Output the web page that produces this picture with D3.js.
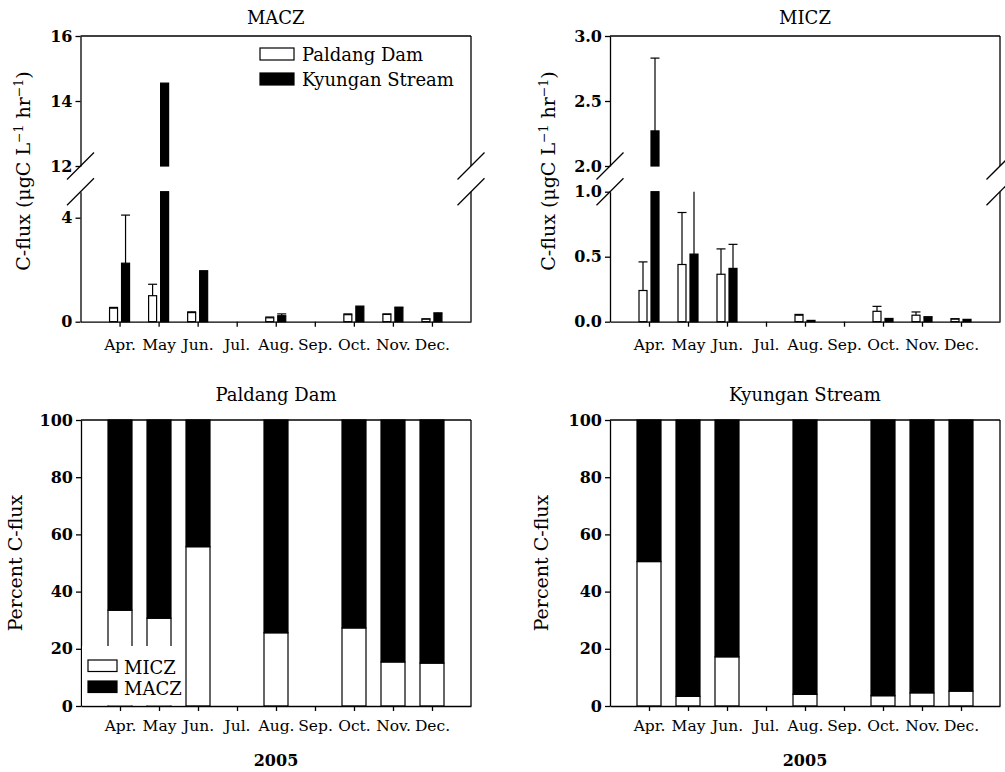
<!DOCTYPE html>
<html>
  <head>
    <meta charset="utf-8" />
    <script src="https://d3js.org/d3.v7.min.js"></script>
    <title>C-flux</title>
    <style>
        body { margin: 0; background: #fff; }
        text { font-family: "DejaVu Serif", serif; fill: #000; }
        .tick line, .domain { stroke: #000; stroke-width: 1.3px; }
        .ytick text { font-size: 16px; font-weight: bold; }
        .xtick text { font-size: 15.5px; }
    </style>
  </head>
  <body>
    <svg id="chart" width="1005" height="772"></svg>

    <script>
    // month categories
    var months = ["Apr.", "May", "Jun.", "Jul.", "Aug.", "Sep.", "Oct.", "Nov.", "Dec."];

    // MACZ C-flux (ugC/L/hr) and error (upper SD)
    var maczPaldang    = [0.52, 1.00, 0.35, null, 0.15, null, 0.27, 0.28, 0.10];
    var maczPaldangErr = [0.03, 0.44, 0.03, null, 0.03, null, 0.03, 0.02, 0.01];
    var maczKyungan    = [2.25, 14.55, 1.96, null, 0.23, null, 0.60, 0.54, 0.32];
    var maczKyunganErr = [1.85, 0, 0, null, 0.07, null, 0, 0.02, 0.02];

    // MICZ C-flux
    var miczPaldang    = [0.24, 0.44, 0.365, null, 0.05, null, 0.08, 0.05, 0.02];
    var miczPaldangErr = [0.22, 0.40, 0.195, null, 0.006, null, 0.038, 0.025, 0.003];
    var miczKyungan    = [2.27, 0.52, 0.41, null, 0.01, null, 0.025, 0.035, 0.018];
    var miczKyunganErr = [0.56, 0.60, 0.185, null, 0, null, 0, 0.003, 0];

    // percent of C-flux
    var pctPaldangMicz = [33.5, 30.7, 55.7, null, 25.6, null, 27.3, 15.4, 15.0];
    var pctPaldangMacz = [66.5, 69.3, 44.3, null, 74.4, null, 72.7, 84.6, 85.0];
    var pctKyunganMicz = [50.5, 3.4, 17.2, null, 4.1, null, 3.6, 4.6, 5.2];
    var pctKyunganMacz = [49.5, 96.6, 82.8, null, 95.9, null, 96.4, 95.4, 94.8];

    // tick values
    var maczTicksUp = [12, 14, 16], maczTicksLow = [0, 4];
    var miczTicksUp = [2.0, 2.5, 3.0], miczTicksLow = [0.0, 0.5, 1.0];
    var pctTicks = [0, 20, 40, 60, 80, 100];

    var svg = d3.select("#chart");

    function yTitle(g, x, y, pieces) {
        var t = g.append("text")
            .attr("transform", "translate(" + x + "," + y + ") rotate(-90)")
            .attr("text-anchor", "middle")
            .style("font-size", "19px");
        pieces.forEach(function(p) {
            var ts = t.append("tspan").text(p.t);
            if (p.sup) ts.style("font-size", "12.5px").attr("dy", -7);
            if (p.down) ts.attr("dy", 7);
        });
    }

    function brokenPanel(opt) {
        var g = svg.append("g");
        var x = d3.scalePoint().domain(months).range([opt.x0, opt.x1]).padding(1);
        var yUp = d3.scaleLinear().domain(opt.upDom).range([166, 36]);
        var yLow = d3.scaleLinear().domain(opt.lowDom).range([321.7, 191.7]);
        var segs = [yUp, yLow];
        var sub = d3.scaleBand().domain(["Paldang", "Kyungan"]).range([-10, 10]).paddingInner(1 / 3);

        function spans(lo, hi) {
            var out = [];
            segs.forEach(function(s) {
                var d = s.domain();
                var a = Math.max(lo, d[0]), b = Math.min(hi, d[1]);
                if (a < b) out.push({ y0: s(a), y1: s(b) });
            });
            return out;
        }
        function inSeg(v) {
            var hit = null;
            segs.forEach(function(s) {
                var d = s.domain();
                if (v >= d[0] && v <= d[1]) hit = s;
            });
            return hit;
        }

        // bars
        opt.series.forEach(function(ser) {
            ser.vals.forEach(function(v, i) {
                if (v == null) return;
                var cx = x(months[i]) + sub(ser.key) + sub.bandwidth() / 2;
                spans(0, v).forEach(function(sp) {
                    g.append("rect")
                        .attr("x", cx - sub.bandwidth() / 2)
                        .attr("width", sub.bandwidth())
                        .attr("y", sp.y1)
                        .attr("height", sp.y0 - sp.y1)
                        .attr("fill", ser.fill)
                        .attr("stroke", "#000")
                        .attr("stroke-width", 1.2);
                });
                var e = ser.errs[i];
                if (e > 0) {
                    spans(v, v + e).forEach(function(sp) {
                        g.append("line").attr("x1", cx).attr("x2", cx)
                            .attr("y1", sp.y0).attr("y2", sp.y1)
                            .attr("stroke", "#000").attr("stroke-width", 1.2);
                    });
                    var s = inSeg(v + e);
                    if (s) {
                        g.append("line").attr("x1", cx - 4.5).attr("x2", cx + 4.5)
                            .attr("y1", s(v + e)).attr("y2", s(v + e))
                            .attr("stroke", "#000").attr("stroke-width", 1.2);
                    }
                }
            });
        });

        // y axes (two segments)
        [[yUp, opt.ticksUp], [yLow, opt.ticksLow]].forEach(function(a) {
            g.append("g").attr("class", "ytick")
                .attr("transform", "translate(" + opt.x0 + ",0)")
                .call(d3.axisLeft(a[0]).tickValues(a[1]).tickSize(5).tickSizeOuter(0)
                    .tickPadding(3).tickFormat(opt.fmt));
            g.append("line").attr("x1", opt.x1).attr("x2", opt.x1)
                .attr("y1", a[0].range()[0]).attr("y2", a[0].range()[1])
                .attr("stroke", "#000").attr("stroke-width", 1.3);
        });
        g.append("line").attr("x1", opt.x0).attr("x2", opt.x1).attr("y1", 36).attr("y2", 36)
            .attr("stroke", "#000").attr("stroke-width", 1.3);

        // break marks
        [opt.x0, opt.x1].forEach(function(bx) {
            [yUp.range()[0], yLow.range()[1]].forEach(function(by) {
                g.append("line")
                    .attr("x1", bx - 13.5).attr("y1", by + 13.5)
                    .attr("x2", bx + 13.5).attr("y2", by - 13.5)
                    .attr("stroke", "#000").attr("stroke-width", 1.3);
            });
        });

        // x axis
        g.append("g").attr("class", "xtick")
            .attr("transform", "translate(0,321.7)")
            .call(d3.axisBottom(x).tickSize(5).tickSizeOuter(0).tickPadding(12));

        g.append("text").attr("x", (opt.x0 + opt.x1) / 2).attr("y", 24)
            .attr("text-anchor", "middle").style("font-size", "18px").text(opt.title);

        yTitle(g, opt.titleX, 171, [
            { t: "C-flux (\u03bcgC L" }, { t: "\u22121", sup: true },
            { t: " hr", down: true }, { t: "\u22121", sup: true }, { t: ")", down: true }
        ]);
        return g;
    }

    function pctPanel(opt) {
        var g = svg.append("g");
        var x = d3.scalePoint().domain(months).range([opt.x0, opt.x1]).padding(1);
        var y = d3.scaleLinear().domain([0, 100]).range([706, 420]);
        var bw = 24;

        opt.micz.forEach(function(v, i) {
            if (v == null) return;
            var cx = x(months[i]);
            g.append("rect").attr("x", cx - bw / 2).attr("width", bw)
                .attr("y", y(v)).attr("height", y(0) - y(v))
                .attr("fill", "#fff").attr("stroke", "#000").attr("stroke-width", 1.2);
            var m = opt.macz[i];
            g.append("rect").attr("x", cx - bw / 2).attr("width", bw)
                .attr("y", y(v + m)).attr("height", y(v) - y(v + m))
                .attr("fill", "#000").attr("stroke", "#000").attr("stroke-width", 1.2);
        });

        g.append("g").attr("class", "ytick")
            .attr("transform", "translate(" + opt.x0 + ",0)")
            .call(d3.axisLeft(y).tickValues(pctTicks).tickSize(5).tickSizeOuter(0).tickPadding(3));
        g.append("line").attr("x1", opt.x1).attr("x2", opt.x1).attr("y1", 420).attr("y2", 706)
            .attr("stroke", "#000").attr("stroke-width", 1.3);
        g.append("line").attr("x1", opt.x0).attr("x2", opt.x1).attr("y1", 420).attr("y2", 420)
            .attr("stroke", "#000").attr("stroke-width", 1.3);

        g.append("g").attr("class", "xtick")
            .attr("transform", "translate(0,706)")
            .call(d3.axisBottom(x).tickSize(5).tickSizeOuter(0).tickPadding(9));

        g.append("text").attr("x", (opt.x0 + opt.x1) / 2).attr("y", 401)
            .attr("text-anchor", "middle").style("font-size", "18px").text(opt.title);
        g.append("text").attr("x", (opt.x0 + opt.x1) / 2).attr("y", 766)
            .attr("text-anchor", "middle").style("font-size", "16px").style("font-weight", "bold")
            .text("2005");
        yTitle(g, opt.titleX, 563, [{ t: "Percent C-flux" }]);
        return g;
    }

    brokenPanel({
        x0: 80.5, x1: 471, title: "MACZ", titleX: 30,
        upDom: [12, 16], lowDom: [0, 5],
        ticksUp: maczTicksUp, ticksLow: maczTicksLow, fmt: d3.format("d"),
        series: [
            { key: "Paldang", vals: maczPaldang, errs: maczPaldangErr, fill: "#fff" },
            { key: "Kyungan", vals: maczKyungan, errs: maczKyunganErr, fill: "#000" }
        ]
    });

    brokenPanel({
        x0: 610, x1: 1000, title: "MICZ", titleX: 555,
        upDom: [2, 3], lowDom: [0, 1],
        ticksUp: miczTicksUp, ticksLow: miczTicksLow, fmt: d3.format(".1f"),
        series: [
            { key: "Paldang", vals: miczPaldang, errs: miczPaldangErr, fill: "#fff" },
            { key: "Kyungan", vals: miczKyungan, errs: miczKyunganErr, fill: "#000" }
        ]
    });

    pctPanel({ x0: 81, x1: 471, title: "Paldang Dam", titleX: 22,
        micz: pctPaldangMicz, macz: pctPaldangMacz });
    pctPanel({ x0: 610, x1: 1000, title: "Kyungan Stream", titleX: 548,
        micz: pctKyunganMicz, macz: pctKyunganMacz });

    // legend, top-left panel
    var leg1 = svg.append("g");
    [["Paldang Dam", "#fff", 48], ["Kyungan Stream", "#000", 73]].forEach(function(d) {
        leg1.append("rect").attr("x", 260).attr("y", d[2]).attr("width", 34).attr("height", 12)
            .attr("fill", d[1]).attr("stroke", "#000").attr("stroke-width", 1.2);
        leg1.append("text").attr("x", 302).attr("y", d[2] + 13).style("font-size", "18px").text(d[0]);
    });

    // legend, bottom-left panel (sits over the bars)
    var leg2 = svg.append("g");
    leg2.append("rect").attr("x", 82).attr("y", 646).attr("width", 103).attr("height", 59.3).attr("fill", "#fff");
    [["MICZ", "#fff", 660], ["MACZ", "#000", 681]].forEach(function(d) {
        leg2.append("rect").attr("x", 88).attr("y", d[2]).attr("width", 29).attr("height", 11.5)
            .attr("fill", d[1]).attr("stroke", "#000").attr("stroke-width", 1.2);
        leg2.append("text").attr("x", 124).attr("y", d[2] + 13.5).style("font-size", "18px").text(d[0]);
    });
    </script>
  </body>
</html>
